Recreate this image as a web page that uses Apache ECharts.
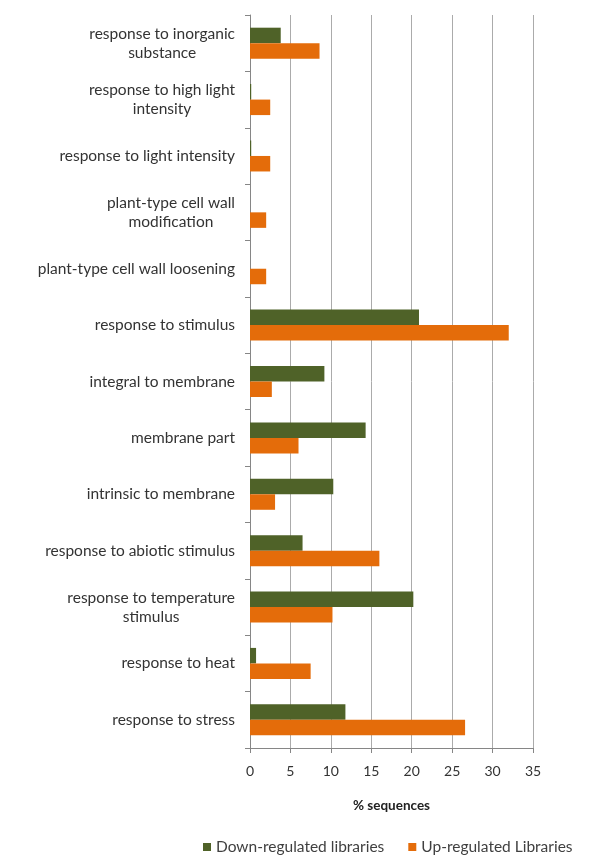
<!DOCTYPE html>
<html><head><meta charset="utf-8">
<script src="https://cdn.jsdelivr.net/npm/echarts@6/dist/echarts.min.js"></script>
<style>html,body{margin:0;padding:0;background:#fff}#c{width:600px;height:863px}</style>
</head><body><div id="c"></div>
<script>
const categories = [
  "response to inorganic\nsubstance",
  "response to high light\nintensity",
  "response to light intensity",
  "plant-type cell wall\nmodification",
  "plant-type cell wall loosening",
  "response to stimulus",
  "integral to membrane",
  "membrane part",
  "intrinsic to membrane",
  "response to abiotic stimulus",
  "response to temperature\nstimulus",
  "response to heat",
  "response to stress"
];
const downRegulated = [3.8, 0.15, 0.15, 0, 0, 20.9, 9.2, 14.3, 10.3, 6.5, 20.2, 0.75, 11.8];
const upRegulated   = [8.6, 2.5, 2.5, 2.0, 2.0, 32.0, 2.7, 6.0, 3.1, 16.0, 10.2, 7.5, 26.6];
const seriesNames = ["Down-regulated libraries", "Up-regulated Libraries"];
const xTicks = { min: 0, max: 35, interval: 5 };
const axisTitle = "% sequences";

const FONT = "Lato";
const chart = echarts.init(document.getElementById('c'), null, {renderer: 'canvas'});
chart.setOption({
  animation: false,
  backgroundColor: '#fff',
  grid: { left: 250, right: 67, top: 15, bottom: 115, containLabel: false },
  legend: {
    left: 198, top: 834, itemWidth: 8, itemHeight: 8, itemGap: 24, icon: 'rect',
    textStyle: { fontFamily: FONT, fontSize: 15.5, color: '#404040' },
    data: seriesNames
  },
  xAxis: {
    type: 'value', min: xTicks.min, max: xTicks.max, interval: xTicks.interval,
    name: axisTitle, nameLocation: 'middle', nameGap: 51,
    nameTextStyle: { fontFamily: FONT, fontSize: 13.5, fontWeight: 'bold', color: '#222' },
    axisLine: { show: true, lineStyle: { color: '#868686' } },
    axisTick: { show: true, length: 5, lineStyle: { color: '#868686' } },
    axisLabel: { fontFamily: FONT, fontSize: 14, color: '#333', margin: 16 },
    splitLine: { show: true, lineStyle: { color: '#ababab' } }
  },
  yAxis: {
    type: 'category', inverse: true, data: categories,
    axisLine: { show: true, lineStyle: { color: '#868686' } },
    axisTick: { show: true, length: 5, lineStyle: { color: '#868686' } },
    axisLabel: {
      margin: 15, align: 'right',
      formatter: function (v) { return v.split('\n').map(s => '{a|' + s + '}').join('\n'); },
      rich: { a: { fontFamily: FONT, fontSize: 15.5, color: '#333', align: 'center', lineHeight: 19 } }
    }
  },
  series: [
    { name: seriesNames[0], type: 'bar', data: downRegulated, barGap: '0%', barCategoryGap: '45%',
      itemStyle: { color: '#4f6228' } },
    { name: seriesNames[1], type: 'bar', data: upRegulated, barGap: '0%', barCategoryGap: '45%',
      itemStyle: { color: '#e46c0a' } }
  ]
});
</script></body></html>
